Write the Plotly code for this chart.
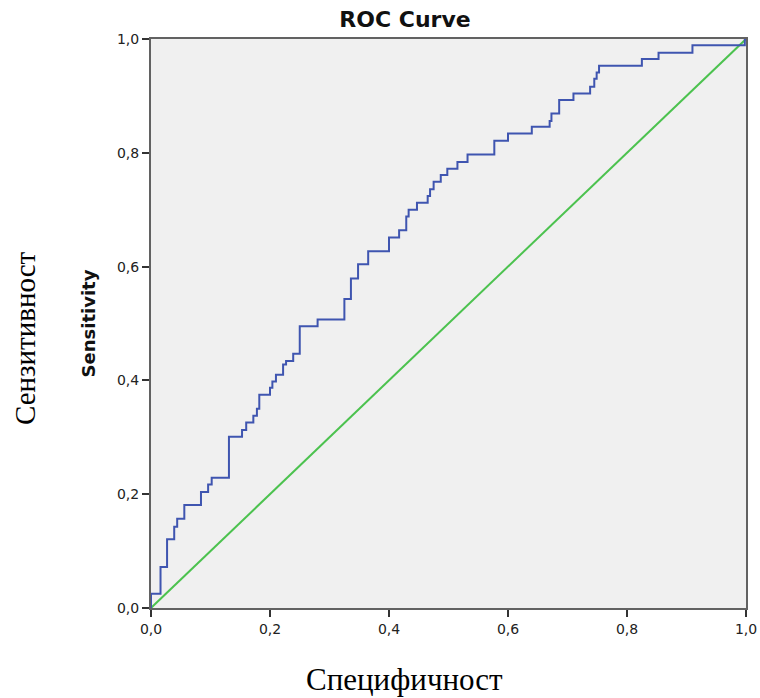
import plotly.graph_objects as go

# ROC curve vertices: end of each horizontal run (1 - specificity) and its sensitivity level
fpr = [0.0, 0.016, 0.027, 0.039, 0.044, 0.056, 0.084, 0.096, 0.102, 0.131,
       0.153, 0.160, 0.172, 0.178, 0.182, 0.200, 0.204, 0.210, 0.222, 0.227,
       0.239, 0.250, 0.280, 0.325, 0.336, 0.348, 0.365, 0.400, 0.417, 0.429,
       0.433, 0.447, 0.465, 0.469, 0.475, 0.487, 0.498, 0.515, 0.532, 0.577,
       0.600, 0.640, 0.670, 0.673, 0.686, 0.710, 0.738, 0.745, 0.749, 0.753,
       0.825, 0.853, 0.910, 0.998, 1.0]
sens = [0.0, 0.025, 0.072, 0.121, 0.143, 0.157, 0.181, 0.204, 0.217, 0.229,
        0.301, 0.313, 0.326, 0.338, 0.350, 0.375, 0.387, 0.398, 0.410, 0.428,
        0.434, 0.447, 0.495, 0.507, 0.543, 0.579, 0.604, 0.627, 0.651, 0.664,
        0.688, 0.700, 0.712, 0.724, 0.736, 0.749, 0.761, 0.772, 0.784, 0.797,
        0.821, 0.834, 0.846, 0.856, 0.869, 0.893, 0.904, 0.916, 0.930, 0.941,
        0.953, 0.965, 0.976, 0.989, 1.0]

# Reference (chance) line
ref_x = [0.0, 1.0]
ref_y = [0.0, 1.0]

tick_vals = [0.0, 0.2, 0.4, 0.6, 0.8, 1.0]

SANS = "DejaVu Sans, Arial"
SERIF = "Liberation Serif, Times New Roman"

fig = go.Figure()
fig.add_trace(go.Scatter(x=ref_x, y=ref_y, mode="lines",
                         line=dict(color="#4cc24f", width=2), showlegend=False))
fig.add_trace(go.Scatter(x=fpr, y=sens, mode="lines", line_shape="vh",
                         line=dict(color="#3f55b0", width=2), showlegend=False))

axis_common = dict(
    range=[0, 1], tickvals=tick_vals, tickformat=".1f",
    ticks="outside", ticklen=7, tickwidth=1.5, tickcolor="#333",
    showline=True, linecolor="#626262", linewidth=2, mirror=True,
    showgrid=False, zeroline=False, automargin=False,
    tickfont=dict(family=SANS, size=14, color="#222"),
)

fig.update_layout(
    width=760, height=698,
    margin=dict(l=151, r=14, t=39, b=90),
    paper_bgcolor="white", plot_bgcolor="#f0f0f0",
    separators=",.",
    title=dict(text="<b>ROC Curve</b>", x=405 / 760, xanchor="center", xref="container",
               y=1 - 19 / 698, yref="container", yanchor="middle",
               font=dict(family=SANS, size=22, color="#111")),
    xaxis=dict(**axis_common),
    yaxis=dict(**axis_common, title=dict(
        text="<b>Sensitivity</b>", standoff=17,
        font=dict(family=SANS, size=18, color="#111"))),
    annotations=[
        dict(text="Сензитивност", xref="paper", yref="paper",
             x=(25 - 151) / 595, y=(608 - 338) / 569,
             xanchor="center", yanchor="middle", textangle=-90, showarrow=False,
             font=dict(family=SERIF, size=29, color="#000")),
        dict(text="Специфичност", xref="paper", yref="paper",
             x=(404 - 151) / 595, y=-(679 - 608) / 569,
             xanchor="center", yanchor="middle", showarrow=False,
             font=dict(family=SERIF, size=31, color="#000")),
    ],
)

fig.write_html("out.html")
